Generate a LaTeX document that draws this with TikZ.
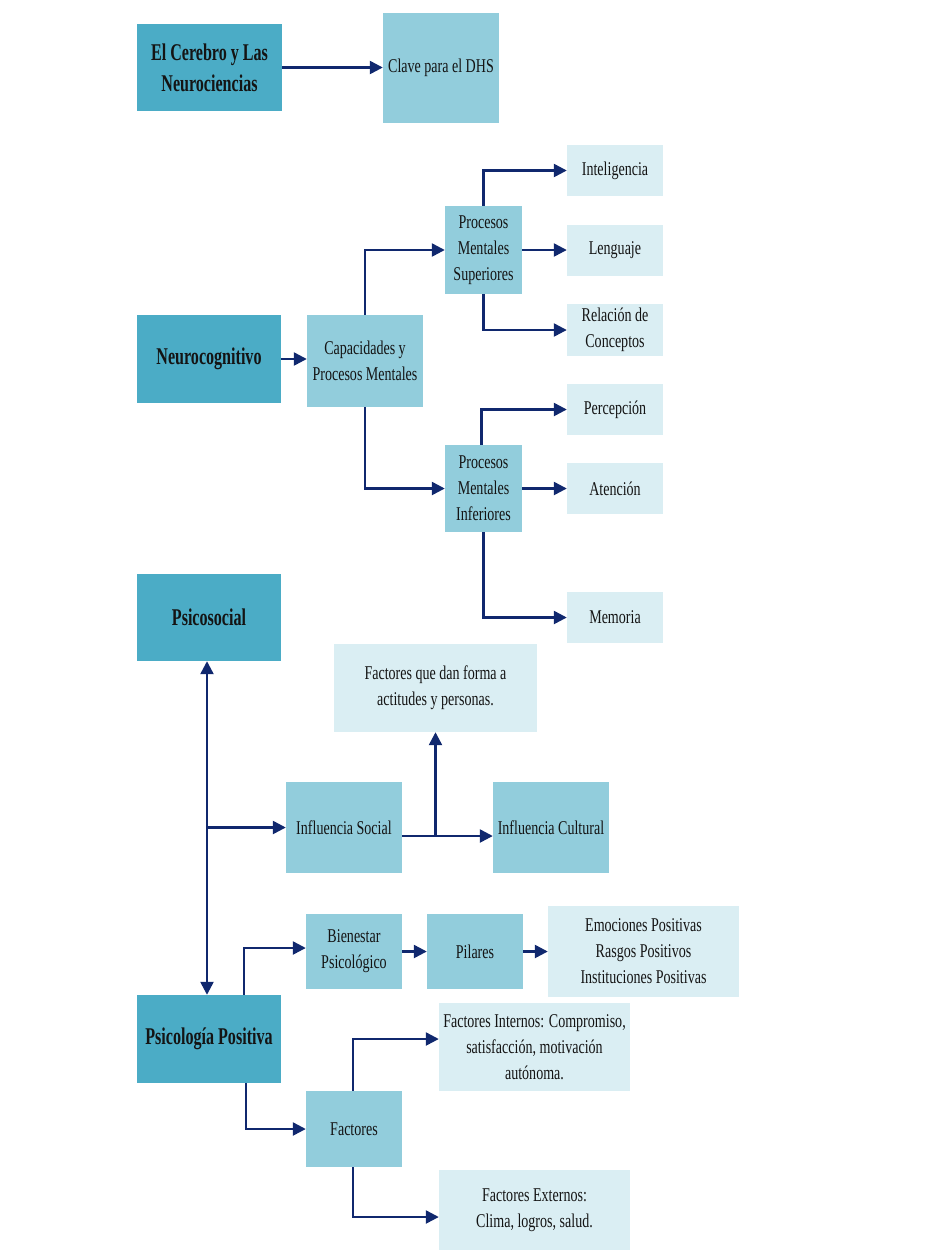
\documentclass[tikz,border=0pt]{standalone}
\usepackage{fontspec}
\setmainfont[FakeStretch=0.72]{Liberation Serif}
\newfontfamily\titlefont[FakeStretch=0.67]{Liberation Serif}
\usetikzlibrary{arrows.meta,calc}
\definecolor{darkbox}{RGB}{75,172,198}
\definecolor{midbox}{RGB}{146,205,220}
\definecolor{lightbox}{RGB}{218,238,243}
\definecolor{arrowc}{RGB}{16,40,110}
\definecolor{textc}{RGB}{20,20,20}
\begin{document}
\begin{tikzpicture}[x=1pt,y=-1pt,
  box/.style={inner sep=0pt, align=center, text=textc, font=\fontsize{19.5}{26}\selectfont},
  darkb/.style={box, fill=darkbox, font=\titlefont\bfseries\fontsize{24}{31}\selectfont},
  midb/.style={box, fill=midbox},
  lightb/.style={box, fill=lightbox},
  sz/.style 2 args={minimum width=#1pt, minimum height=#2pt},
  conn/.style={draw=arrowc, line width=2.4pt, -{Triangle[length=13pt,width=13pt]}},
  biconn/.style={draw=arrowc, line width=2.4pt, {Triangle[length=13pt,width=13pt]}-{Triangle[length=13pt,width=13pt]}}
]
\useasboundingbox (0,0) rectangle (948,1251);

% top row
\node[darkb, sz={145}{87}] (cer) at (209.5,67.5) {El Cerebro y Las\\Neurociencias};
\node[midb, sz={116}{110}] (clave) at (441,68) {Clave para el DHS};

% neurocognitivo
\node[darkb, sz={144}{88}] (neuro) at (209,359) {Neurocognitivo};
\node[midb, sz={116}{92}] (cap) at (365,361) {Capacidades y\\Procesos Mentales};
\node[midb, sz={77}{88}] (sup) at (483.5,250) {Procesos\\Mentales\\Superiores};
\node[lightb, sz={96}{51}] (intel) at (615,170.5) {Inteligencia};
\node[lightb, sz={96}{51}] (leng) at (615,250.5) {Lenguaje};
\node[lightb, sz={96}{52}] (rel) at (615,330) {Relación de\\Conceptos};
\node[midb, sz={77}{87}] (inf) at (483.5,488.5) {Procesos\\Mentales\\Inferiores};
\node[lightb, sz={96}{51}] (perc) at (615,409.5) {Percepción};
\node[lightb, sz={96}{51}] (aten) at (615,488.5) {Atención};
\node[lightb, sz={96}{51}] (mem) at (615,617.5) {Memoria};

% psicosocial
\node[darkb, sz={144}{87}] (psico) at (209,617.5) {Psicosocial};
\node[lightb, sz={203}{88}] (fact1) at (435.5,688) {Factores que dan forma a\\actitudes y personas.};
\node[midb, sz={116}{91}] (infs) at (344,827.5) {Influencia Social};
\node[midb, sz={116}{91}] (infc) at (551,827.5) {Influencia Cultural};

% psicologia positiva
\node[darkb, sz={144}{88}] (pp) at (209,1039) {Psicología Positiva};
\node[midb, sz={96}{75}] (bien) at (354,951.5) {Bienestar\\Psicológico};
\node[midb, sz={96}{75}] (pil) at (475,951.5) {Pilares};
\node[lightb, sz={191}{91}] (emo) at (643.5,951.5) {Emociones Positivas\\Rasgos Positivos\\Instituciones Positivas};
\node[lightb, sz={191}{88}] (fint) at (534.5,1047) {Factores Internos: Compromiso,\\satisfacción, motivación\\autónoma.};
\node[midb, sz={96}{76}] (fac) at (354,1129) {Factores};
\node[lightb, sz={191}{80}] (fext) at (534.5,1210) {Factores Externos:\\Clima, logros, salud.};

% connectors: top
\draw[conn] (cer.east) -- (cer.east -| clave.west);

% neurocognitivo
\draw[conn] (neuro.east) -- (neuro.east -| cap.west);
\draw[conn] (cap.north) |- (sup.west);
\draw[conn] (cap.south) |- (inf.west);
\draw[conn] (sup.north) |- (intel.west);
\draw[conn] (sup.east) -- (sup.east -| leng.west);
\draw[conn] (sup.south) |- (rel.west);
\draw[conn] ([xshift=-2pt]inf.north) |- (perc.west);
\draw[conn] (inf.east) -- (inf.east -| aten.west);
\draw[conn] (inf.south) |- (mem.west);

% psicosocial
\draw[biconn] ([xshift=-2pt]psico.south) -- ([xshift=-2pt]pp.north);
\coordinate (j1) at ([xshift=-2pt]psico.south |- infs.west);
\draw[conn] (j1) -- (infs.west);
\coordinate (j2) at (435.5,836);
\draw[conn] (infs.east |- j2) -- (infc.west |- j2);
\draw[conn] (j2) -- (j2 |- fact1.south);

% psicologia positiva
\draw[conn] ([xshift=35pt]pp.north) |- ([yshift=3.5pt]bien.west);
\draw[conn] (bien.east) -- (pil.west);
\draw[conn] (pil.east) -- (emo.west);
\draw[conn] ([xshift=37pt]pp.south) |- (fac.west);
\draw[conn] ([xshift=-1pt]fac.north) |- ([yshift=8pt]fint.west);
\draw[conn] ([xshift=-1pt]fac.south) |- ([yshift=-7pt]fext.west);
\end{tikzpicture}
\end{document}
